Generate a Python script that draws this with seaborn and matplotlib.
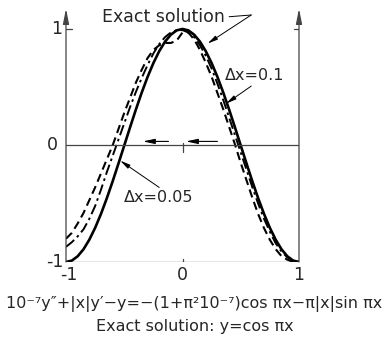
import numpy as np
import pandas as pd
import matplotlib
matplotlib.use("Agg")
import matplotlib.pyplot as plt
import seaborn as sns

# grid of x positions (step 0.05 from -1 to 1)
x_grid = [round(-1 + 0.05 * i, 2) for i in range(41)]

# exact solution y = cos(pi x)
y_exact = [-1.0, -0.988, -0.951, -0.891, -0.809, -0.707, -0.588, -0.454, -0.309, -0.156,
           0.0, 0.156, 0.309, 0.454, 0.588, 0.707, 0.809, 0.891, 0.951, 0.988,
           1.0, 0.988, 0.951, 0.891, 0.809, 0.707, 0.588, 0.454, 0.309, 0.156,
           0.0, -0.156, -0.309, -0.454, -0.588, -0.707, -0.809, -0.891, -0.951, -0.988, -1.0]

# numerical solution, dx = 0.05 (dash-dot)
y_dx005 = [-0.87, -0.83, -0.78, -0.72, -0.63, -0.52, -0.38, -0.23, -0.09, 0.05,
           0.19, 0.33, 0.46, 0.58, 0.69, 0.79, 0.87, 0.93, 0.97, 0.99,
           0.99, 0.97, 0.93, 0.86, 0.77, 0.66, 0.53, 0.39, 0.24, 0.09,
           -0.06, -0.21, -0.36, -0.50, -0.63, -0.74, -0.84, -0.91, -0.96, -0.99, -1.0]

# numerical solution, dx = 0.1 (dashed)
y_dx01 = [-0.80, -0.75, -0.67, -0.58, -0.47, -0.36, -0.24, -0.12, 0.0, 0.14,
          0.28, 0.41, 0.54, 0.65, 0.75, 0.82, 0.86, 0.88, 0.88, 0.90,
          0.97, 0.97, 0.91, 0.82, 0.71, 0.59, 0.45, 0.31, 0.16, 0.01,
          -0.15, -0.30, -0.45, -0.59, -0.71, -0.81, -0.89, -0.95, -0.98, -1.0, -1.0]

x_ticks = [-1, 0, 1]
x_tick_labels = ["-1", "0", "1"]
y_ticks = [-1, 0, 1]
y_tick_labels = ["-1", "0", "1"]

sns.set_style("white")
plt.rcParams["font.family"] = ["DejaVu Sans"]

fig = plt.figure(figsize=(3.87, 3.61), dpi=100)
ax = fig.add_axes([66 / 387, 1 - 262 / 361, 233 / 387, 253.3 / 361])
ax.set_xlim(-1, 1)
ax.set_ylim(-1, 1.174)
ax.set_facecolor("white")
for s in ax.spines.values():
    s.set_visible(False)
ax.set_xticks([])
ax.set_yticks([])

df = pd.DataFrame({"x": x_grid * 3,
                   "y": y_exact + y_dx005 + y_dx01,
                   "case": ["exact"] * 41 + ["dx005"] * 41 + ["dx01"] * 41})

sns.lineplot(data=df[df.case == "exact"], x="x", y="y", ax=ax, color="black",
             lw=1.9, estimator=None, sort=False)
sns.lineplot(data=df[df.case == "dx005"], x="x", y="y", ax=ax, color="black",
             lw=1.4, estimator=None, sort=False, dashes=False)
ax.lines[-1].set_dashes([5.5, 2.0, 1.3, 2.0])
sns.lineplot(data=df[df.case == "dx01"], x="x", y="y", ax=ax, color="black",
             lw=1.5, estimator=None, sort=False)
ax.lines[-1].set_dashes([4.0, 2.3])
ax.set_xlabel("")
ax.set_ylabel("")

axis_col = "#444444"
# vertical axes with arrowheads
for xv in (-1, 1):
    ax.annotate("", xy=(xv, 1.174), xytext=(xv, -1), xycoords="data",
                arrowprops=dict(arrowstyle="-|>,head_length=0.9,head_width=0.18",
                                color=axis_col, lw=0.9, shrinkA=0, shrinkB=0),
                annotation_clip=False)
# zero line and bottom line
ax.plot([-1, 1], [0, 0], color=axis_col, lw=0.9)
ax.plot([-1, 1], [-1, -1], color=axis_col, lw=0.9)
# small ticks
ax.plot([-1, -0.95], [1, 1], color=axis_col, lw=0.9)
ax.plot([0.955, 1], [1, 1], color=axis_col, lw=0.9)
ax.plot([0, 0], [0.02, -0.06], color=axis_col, lw=0.9)
ax.plot([0, 0], [-1, -0.97], color=axis_col, lw=0.9)

# tick labels
fs = 12.5
y_label_x = {-1: -1.02, 0: -1.07, 1: -1.03}
for yv, lab in zip(y_ticks, y_tick_labels):
    ax.text(y_label_x[yv], yv, lab, ha="right", va="center", fontsize=fs)
for xv, lab in zip(x_ticks, x_tick_labels):
    ax.text(xv + (0.02 if xv == -1 else 0), -1.11, lab, ha="center", va="center", fontsize=fs)

# leftward arrows on the zero line
for x0, x1 in ((-0.12, -0.34), (0.30, 0.03)):
    ax.annotate("", xy=(x1, 0.035), xytext=(x0, 0.035),
                arrowprops=dict(arrowstyle="-|>,head_length=0.7,head_width=0.15",
                                color="black", lw=0.8, shrinkA=0, shrinkB=0))

# curve labels
ax.text(-0.69, 1.10, "Exact solution", fontsize=12.5, ha="left", va="center")
ax.plot([0.40, 0.59], [1.105, 1.12], color="black", lw=0.7)
ax.annotate("", xy=(0.215, 0.875), xytext=(0.59, 1.12),
            arrowprops=dict(arrowstyle="-|>,head_length=0.6,head_width=0.13",
                            color="black", lw=0.7, shrinkA=0, shrinkB=0))
ax.text(0.36, 0.60, "Δx=0.1", fontsize=11.5, ha="left", va="center")
ax.annotate("", xy=(0.375, 0.36), xytext=(0.59, 0.51),
            arrowprops=dict(arrowstyle="-|>,head_length=0.6,head_width=0.13",
                            color="black", lw=0.7, shrinkA=0, shrinkB=0))
ax.text(-0.50, -0.445, "Δx=0.05", fontsize=11.5, ha="left", va="center")
ax.annotate("", xy=(-0.535, -0.13), xytext=(-0.20, -0.36),
            arrowprops=dict(arrowstyle="-|>,head_length=0.6,head_width=0.13",
                            color="black", lw=0.7, shrinkA=0, shrinkB=0))

# equation and caption below the axes
fig.text(194 / 387, 1 - 304 / 361,
         "10⁻⁷y″+|x|y′−y=−(1+π²10⁻⁷)cos πx−π|x|sin πx",
         ha="center", va="center", fontsize=11.5)
fig.text(195 / 387, 1 - 327 / 361, "Exact solution: y=cos πx",
         ha="center", va="center", fontsize=11.5)

fig.savefig("out.png", dpi=100, facecolor="white")
